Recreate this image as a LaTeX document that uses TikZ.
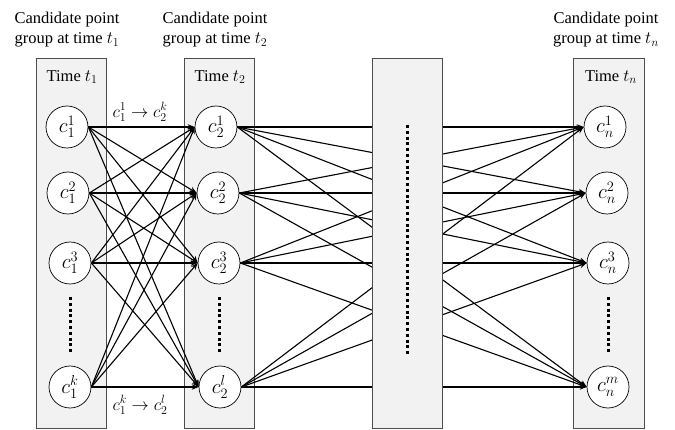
\documentclass[tikz,border=0pt]{standalone}
\usepackage{fontspec}
\setmainfont{Liberation Serif}
\usetikzlibrary{arrows.meta}
\tikzset{
  panel/.style={
    draw = black!70,
    fill = black!5,
    line width = 0.9pt
  },
  cand/.style={
    shape = circle,
    draw,
    fill = white,
    minimum size = 42pt,
    inner sep = 0pt,
    line width = 0.7pt,
    font = \fontsize{20}{22}\selectfont
  },
  link/.style={
    line width = 1.1pt,
    -{Stealth[length=7pt,width=5.5pt]}
  },
  vdots/.style={
    line width = 3pt,
    dash pattern = on 3pt off 2.8pt
  },
  head/.style={
    align = center,
    font = \fontsize{16.5}{20}\selectfont
  },
  hop/.style={
    font = \fontsize{18}{20}\selectfont
  }
}

\begin{document}
\begin{tikzpicture}[x=1pt,y=-1pt,font=\fontsize{16.5}{20}\selectfont]
  \useasboundingbox (0,0) rectangle (675,430);
  \filldraw[panel] (36,58) rectangle (106,428);
  \filldraw[panel] (184,58) rectangle (254,428);
  \filldraw[panel] (573,58) rectangle (644,428);

  \node[head] (h1) at (67,30) {Candidate point\\group at time $t_1$};
  \node[head] (h2) at (215,30) {Candidate point\\group at time $t_2$};
  \node[head] (hn) at (606,30) {Candidate point\\group at time $t_n$};

  \node (l1) at (72,77) {Time $t_1$};
  \node (l2) at (220,77) {Time $t_2$};
  \node (ln) at (611,77) {Time $t_n$};

  \node[cand] (a1) at (67,127) {$c_1^1$};
  \node[cand] (a2) at (68,193) {$c_1^2$};
  \node[cand] (a3) at (70,263) {$c_1^3$};
  \node[cand] (a4) at (70,387) {$c_1^k$};
  \node[cand] (b1) at (216,127) {$c_2^1$};
  \node[cand] (b2) at (218,193) {$c_2^2$};
  \node[cand] (b3) at (219,263) {$c_2^3$};
  \node[cand] (b4) at (220,387) {$c_2^l$};
  \node[cand] (n1) at (605,127) {$c_n^1$};
  \node[cand] (n2) at (607,193) {$c_n^2$};
  \node[cand] (n3) at (608,263) {$c_n^3$};
  \node[cand] (n4) at (608,387) {$c_n^m$};

  \foreach \i in {1,...,4}
    \foreach \j in {1,...,4}
      \draw[link] (a\i.east) -- (b\j.west);
  \foreach \i in {1,...,4}
    \foreach \j in {1,...,4}
      \draw[link] (b\i.east) -- (n\j.west);

  \filldraw[panel] (372,58) rectangle (442,428);
  \draw[vdots] (407,125) -- (407,356);
  \draw[vdots] (70,297) -- (70,354);
  \draw[vdots] (219,297) -- (219,354);
  \draw[vdots] (608,297) -- (608,354);

  \node[hop] (e1) at (140,112) {$c_1^1 \rightarrow c_2^k$};
  \node[hop] (e2) at (140,405) {$c_1^k \rightarrow c_2^l$};
\end{tikzpicture}
\end{document}
